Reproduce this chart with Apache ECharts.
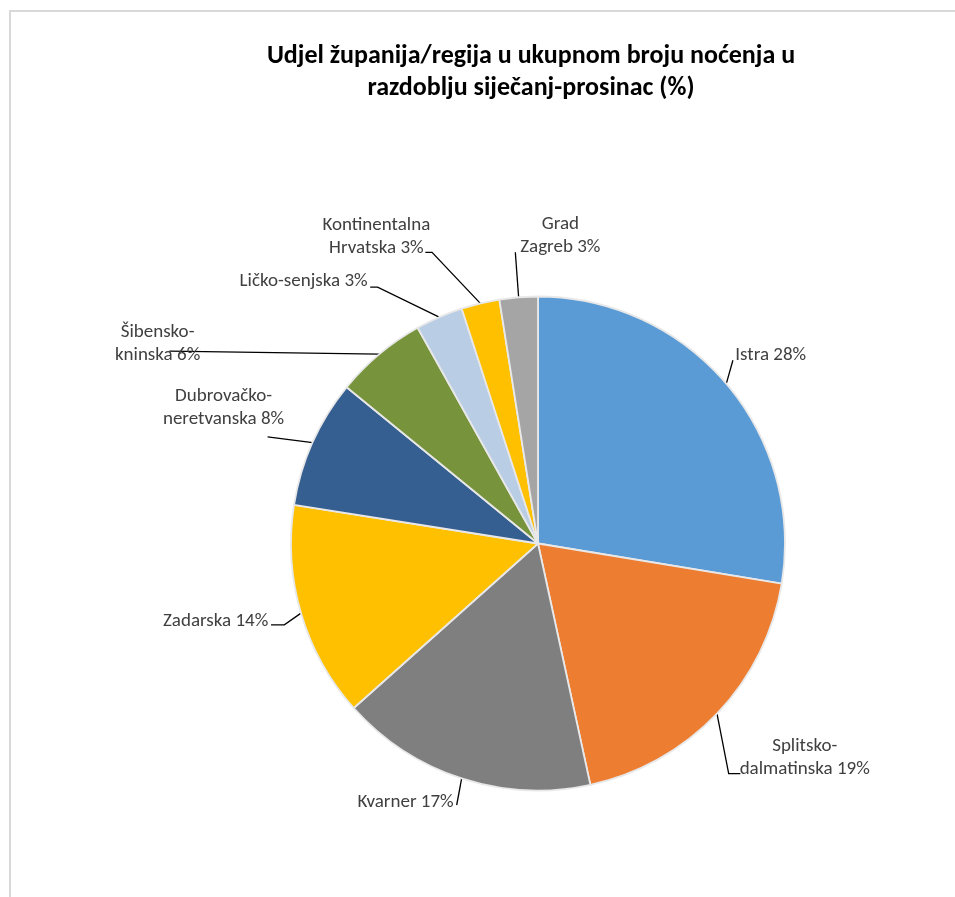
<!DOCTYPE html>
<html>
<head>
<meta charset="utf-8">
<script src="https://cdn.jsdelivr.net/npm/echarts@6/dist/echarts.min.js"></script>
<style>
html,body{margin:0;padding:0;background:#fff;}
#chart{width:955px;height:897px;}
</style>
</head>
<body>
<div id="chart"></div>
<script>
// Data
const categories = ['Istra', 'Splitsko-dalmatinska', 'Kvarner', 'Zadarska', 'Dubrovačko-neretvanska', 'Šibensko-kninska', 'Ličko-senjska', 'Kontinentalna Hrvatska', 'Grad Zagreb'];
const labelNames = ['Istra', 'Splitsko-\ndalmatinska', 'Kvarner', 'Zadarska', 'Dubrovačko-\nneretvanska', 'Šibensko-\nkninska', 'Ličko-senjska', 'Kontinentalna\nHrvatska', 'Grad\nZagreb'];
const shares = [27.6, 19.0, 16.8, 14.1, 8.4, 6.0, 3.1, 2.5, 2.5];
const shownPercent = [28, 19, 17, 14, 8, 6, 3, 3, 3];
const colors = ['#5B9BD5', '#ED7D31', '#7F7F7F', '#FFC000', '#365F91', '#77933C', '#B9CDE5', '#FFC000', '#A5A5A5'];

// Label placement relative to the leader-line start on the slice edge
const placement = [
  {line: [[6.6, -23.4]], text: [9, -28.4], align: 'left'},
  {line: [[11.7, 60], [23.4, 60]], text: [87.7, 44.3], align: 'center'},
  {line: [[-5, 26.7]], text: [-8, 23.4], align: 'right'},
  {line: [[-16.7, 11.7], [-30, 11.7]], text: [-32.7, 8], align: 'right'},
  {line: [[-45, -5.7]], text: [-89, -35], align: 'center'},
  {line: [[-210, -3]], text: [-221.8, -10.7], align: 'center'},
  {line: [[-61.6, -30], [-69, -30]], text: [-71.6, -35.6], align: 'right'},
  {line: [[-48.3, -51], [-55, -51]], text: [-104, -66.4], align: 'center'},
  {line: [[-3.3, -45]], text: [41.7, -61.4], align: 'center'}
];

const FONT = "Carlito, Calibri, 'Open Sans', sans-serif";
const cx = 538, cy = 543.5, R = 247;

const chart = echarts.init(document.getElementById('chart'));
chart.setOption({
  backgroundColor: '#ffffff',
  animation: false,
  title: {
    text: 'Udjel županija/regija u ukupnom broju noćenja u\nrazdoblju siječanj-prosinac (%)',
    left: 526,
    top: 35,
    textAlign: 'center',
    textStyle: {fontFamily: FONT, fontWeight: 'bold', fontSize: 26, color: '#000', lineHeight: 32}
  },
  graphic: [{
    type: 'polyline',
    shape: {points: [[10, 900], [10, 11], [960, 11]]},
    style: {stroke: '#d9d9d9', lineWidth: 2, fill: null},
    silent: true
  }],
  series: [{
    type: 'pie',
    center: [cx, cy],
    radius: R,
    startAngle: 90,
    clockwise: true,
    avoidLabelOverlap: false,
    itemStyle: {borderColor: '#e8e8e8', borderWidth: 1.8},
    label: {
      show: true,
      position: 'outside',
      fontFamily: FONT,
      fontSize: 19,
      lineHeight: 23,
      color: '#404040',
      formatter: p => labelNames[p.dataIndex] + ' ' + shownPercent[p.dataIndex] + '%'
    },
    labelLine: {show: true, length: 20, length2: 10, lineStyle: {color: '#000', width: 1.3}},
    labelLayout: function (params) {
      const i = params.dataIndex;
      const pl = placement[i];
      const p0 = (params.labelLinePoints && params.labelLinePoints[0]) || [params.labelRect.x, params.labelRect.y];
      const pts = [[p0[0], p0[1]]].concat(pl.line.map(d => [p0[0] + d[0], p0[1] + d[1]]));
      return {
        x: p0[0] + pl.text[0],
        y: p0[1] + pl.text[1],
        align: pl.align,
        verticalAlign: 'middle',
        labelLinePoints: pts
      };
    },
    data: categories.map((c, i) => ({name: c, value: shares[i], itemStyle: {color: colors[i]}, label: {align: placement[i].align}}))
  }]
});
</script>
</body>
</html>
